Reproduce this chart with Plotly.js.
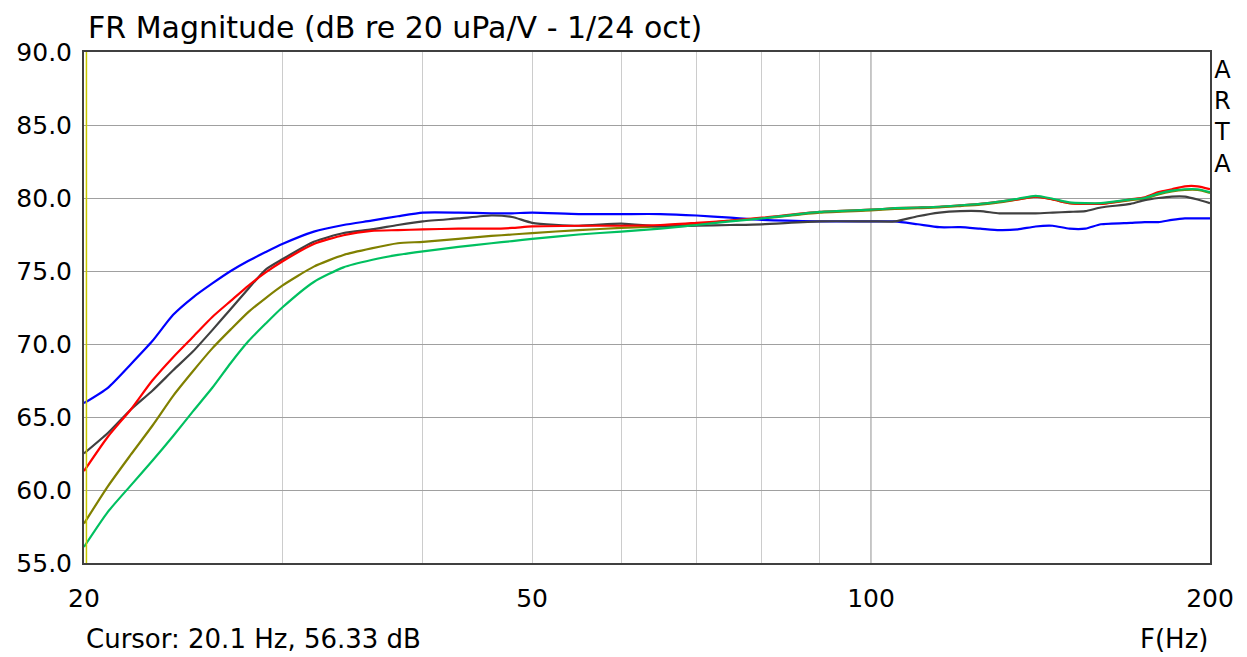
<!DOCTYPE html>
<html>
<head>
<meta charset="utf-8">
<script src="https://cdn.plot.ly/plotly-3.0.1.min.js"></script>
<style>
html,body{margin:0;padding:0;background:#fff;}
#chart{width:1247px;height:657px;}
</style>
</head>
<body>
<div id="chart"></div>
<script>
const freq = [20,21,22,23,24,25,26,27,28,29,30,32,34,36,38,40,43,46,48,50,55,60,65,70,75,80,90,100,105,110,115,120,125,130,135,140,145,150,155,160,170,175,180,185,190,195,200];

const blue = [65.95,67.0,68.6,70.2,72.0,73.2,74.15,75.0,75.7,76.3,76.85,77.7,78.15,78.45,78.75,79.0,79.0,78.95,78.95,79.0,78.9,78.9,78.9,78.8,78.65,78.5,78.4,78.4,78.4,78.2,78.0,78.0,77.9,77.8,77.85,78.05,78.1,77.9,77.9,78.2,78.3,78.35,78.35,78.5,78.6,78.6,78.6];

const black = [62.5,63.9,65.5,66.8,68.2,69.5,70.95,72.4,73.8,75.1,75.8,77.0,77.6,77.85,78.15,78.4,78.6,78.8,78.7,78.3,78.1,78.25,78.05,78.1,78.15,78.2,78.4,78.4,78.4,78.75,79.0,79.1,79.1,78.95,78.95,78.95,79.0,79.05,79.1,79.35,79.6,79.85,80.0,80.1,80.1,79.9,79.65];

const red = [61.3,63.65,65.5,67.5,69.1,70.5,71.85,72.95,74.0,74.9,75.65,76.85,77.45,77.75,77.8,77.85,77.9,77.9,77.95,78.05,78.1,78.1,78.15,78.3,78.45,78.65,79.05,79.2,79.3,79.35,79.4,79.5,79.6,79.75,79.9,80.1,79.9,79.65,79.6,79.6,79.9,80.05,80.4,80.6,80.8,80.8,80.6];

const olive = [57.7,60.25,62.4,64.4,66.45,68.15,69.7,71.0,72.2,73.15,74.0,75.3,76.1,76.55,76.9,77.0,77.2,77.4,77.5,77.6,77.8,77.95,78.05,78.2,78.45,78.6,79.0,79.15,79.25,79.3,79.35,79.45,79.55,79.7,79.9,80.1,79.9,79.65,79.6,79.6,79.85,79.95,80.25,80.45,80.55,80.55,80.35];

const green = [56.1,58.5,60.3,62.0,63.7,65.4,67.0,68.7,70.2,71.4,72.5,74.25,75.25,75.75,76.1,76.35,76.65,76.9,77.05,77.2,77.5,77.7,77.9,78.15,78.4,78.6,79.05,79.2,79.3,79.35,79.4,79.5,79.6,79.75,79.95,80.15,79.95,79.7,79.65,79.65,79.9,80.0,80.3,80.5,80.6,80.6,80.4];

const xTickVals = [20,30,40,50,60,70,80,90,100,200];
const xTickText = ['20','','','50','','','','','100','200'];
const cursorFreq = 20.1;

const FONT = 'DejaVu Sans, Verdana, sans-serif';

function tr(y, color) {
  return {x: freq, y: y, type: 'scatter', mode: 'lines',
          line: {color: color, width: 2.2, shape: 'spline', smoothing: 0.6},
          hoverinfo: 'skip', showlegend: false};
}

const data = [
  tr(olive, '#808000'),
  tr(blue, '#0000ff'),
  tr(black, '#404040'),
  tr(red, '#ff0000'),
  tr(green, '#00c060')
];

const layout = {
  width: 1247, height: 657,
  margin: {l: 84, r: 37, t: 52, b: 94},
  paper_bgcolor: '#ffffff', plot_bgcolor: '#ffffff',
  font: {family: FONT, color: '#000000'},
  xaxis: {
    type: 'log',
    range: [Math.log10(20), Math.log10(200)],
    tickmode: 'array', tickvals: xTickVals, ticktext: xTickText,
    showgrid: true, gridcolor: '#cccccc', gridwidth: 1,
    zeroline: false, ticks: '',
    showline: true, mirror: true, linecolor: '#404040', linewidth: 2,
    tickfont: {size: 25, family: FONT, color: '#000'},
    ticklabelstandoff: 12
  },
  yaxis: {
    range: [55, 90],
    tickmode: 'linear', tick0: 55, dtick: 5, tickformat: '.1f',
    showgrid: true, gridcolor: '#a0a0a0', gridwidth: 1,
    zeroline: false, ticks: '',
    showline: true, mirror: true, linecolor: '#404040', linewidth: 2,
    tickfont: {size: 25, family: FONT, color: '#000'},
    ticklabelstandoff: 5
  },
  shapes: [
    {type: 'line', xref: 'x', yref: 'paper', x0: 100, x1: 100, y0: 0, y1: 1,
     line: {color: '#808080', width: 1}, layer: 'below'},
    {type: 'line', xref: 'x', yref: 'paper', x0: cursorFreq, x1: cursorFreq, y0: 0, y1: 1,
     line: {color: '#c8c800', width: 1.5}, layer: 'above'}
  ],
  annotations: [
    {text: 'FR Magnitude (dB re 20 uPa/V - 1/24 oct)', xref: 'paper', yref: 'paper',
     x: 0.002, y: 1, xanchor: 'left', yanchor: 'bottom', yshift: 5, showarrow: false,
     font: {size: 30, family: FONT, color: '#000'}},
    {text: 'Cursor: 20.1 Hz, 56.33 dB', xref: 'paper', yref: 'paper',
     x: 0, y: 0, xanchor: 'left', yanchor: 'middle', yshift: -76, showarrow: false,
     font: {size: 26, family: FONT, color: '#000'}},
    {text: 'F(Hz)', xref: 'paper', yref: 'paper',
     x: 1, y: 0, xanchor: 'right', yanchor: 'middle', yshift: -76, showarrow: false,
     font: {size: 26, family: FONT, color: '#000'}},
    {text: 'A<br>R<br>T<br>A', xref: 'paper', yref: 'paper',
     x: 1, y: 1, xanchor: 'left', yanchor: 'top', xshift: 2, yshift: -2, showarrow: false,
     align: 'center',
     font: {size: 24, family: FONT, color: '#000'}}
  ]
};

Plotly.newPlot('chart', data, layout, {displayModeBar: false, staticPlot: true});
</script>
</body>
</html>
